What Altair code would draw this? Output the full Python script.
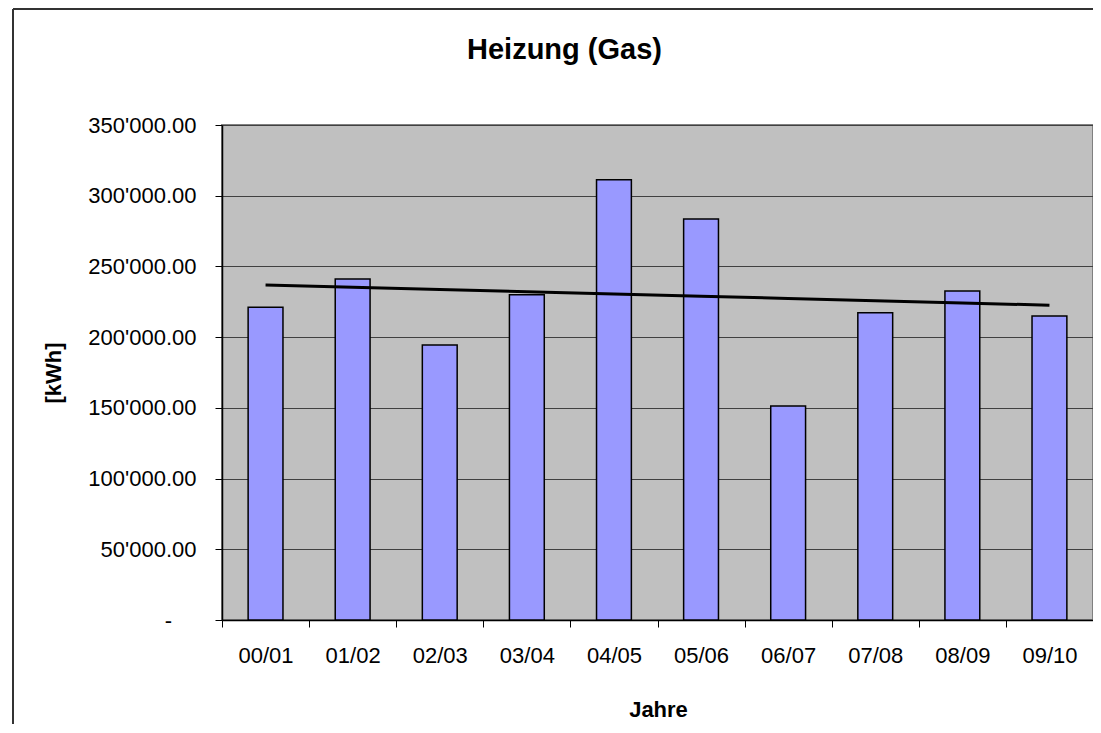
import altair as alt
import pandas as pd
import numpy as np

years = ["00/01", "01/02", "02/03", "03/04", "04/05", "05/06", "06/07", "07/08", "08/09", "09/10"]
gas_kwh = [221100, 241100, 194400, 230000, 311300, 283500, 151300, 217300, 232600, 215000]
y_ticks = [0, 50000, 100000, 150000, 200000, 250000, 300000, 350000]

idx = np.arange(len(years))
slope, intercept = np.polyfit(idx, gas_kwh, 1)
df = pd.DataFrame({"Jahre": years, "kWh": gas_kwh, "trend": intercept + slope * idx})

FONT = "Liberation Sans"
W, H = 871, 495

label_expr = ("datum.value == 0 ? '-\u00a0\u00a0\u00a0\u00a0\u200d' : "
              "replace(format(datum.value, ',.2f'), ',', \"'\")")

x_enc = alt.X(
    "Jahre:N", sort=years, title="Jahre",
    scale=alt.Scale(paddingInner=0, paddingOuter=0),
    axis=alt.Axis(
        tickBand="extent", labelAngle=0, grid=False,
        labelFont=FONT, labelFontSize=22, labelColor="black",
        labelBaseline="alphabetic", labelPadding=35,
        tickSize=7, tickColor="black", domainColor="black", domainWidth=1.5,
        titleFont=FONT, titleFontSize=22, titleFontWeight="bold", titleColor="black",
        titleBaseline="alphabetic", titleY=96, titleX=436,
    ),
)

y_enc = alt.Y(
    "kWh:Q", title="[kWh]",
    scale=alt.Scale(domain=[0, 350000], nice=False),
    axis=alt.Axis(
        values=y_ticks, labelExpr=label_expr, grid=True,
        gridColor="#404040", gridWidth=1,
        labelFont=FONT, labelFontSize=22, labelColor="black",
        labelPadding=19, labelBaseline="middle",
        tickSize=7, tickColor="black", domainColor="black", domainWidth=1.5,
        titleFont=FONT, titleFontSize=22, titleFontWeight="bold", titleColor="black",
        titleX=-169, titleY=H / 2, titleBaseline="middle", titleAngle=-90,
    ),
)

bars = alt.Chart(df).mark_bar(
    width=alt.RelativeBandSize(0.4), color="#9999ff", stroke="black", strokeWidth=1.5
).encode(x=x_enc, y=y_enc)

trend = alt.Chart(df).mark_line(color="black", strokeWidth=3).encode(
    x=alt.X("Jahre:N", sort=years), y=alt.Y("trend:Q")
)

frame_df = pd.DataFrame({"k": [0]})
frame_left = alt.Chart(frame_df).mark_rule(color="#333333", strokeWidth=2).encode(
    x=alt.value(-209), y=alt.value(-116), y2=alt.value(640)
)
frame_top = alt.Chart(frame_df).mark_rule(color="#333333", strokeWidth=2).encode(
    x=alt.value(-209), x2=alt.value(900), y=alt.value(-116)
)

chart = alt.layer(bars, trend, frame_left, frame_top).properties(
    width=W, height=H,
    title=alt.TitleParams(
        "Heizung (Gas)", font=FONT, fontSize=29, fontWeight="bold", color="black",
        anchor="middle", dx=-93, baseline="alphabetic", offset=-80,
    ),
    autosize=alt.AutoSizeParams(type="none"),
    padding={"left": 214, "top": 117, "right": 0, "bottom": 104},
).configure(
    background="white",
    view=alt.ViewConfig(fill="#c0c0c0", stroke="#808080", strokeWidth=2),
)

chart.save("out.html", embed_options={"renderer": "svg", "actions": False})
